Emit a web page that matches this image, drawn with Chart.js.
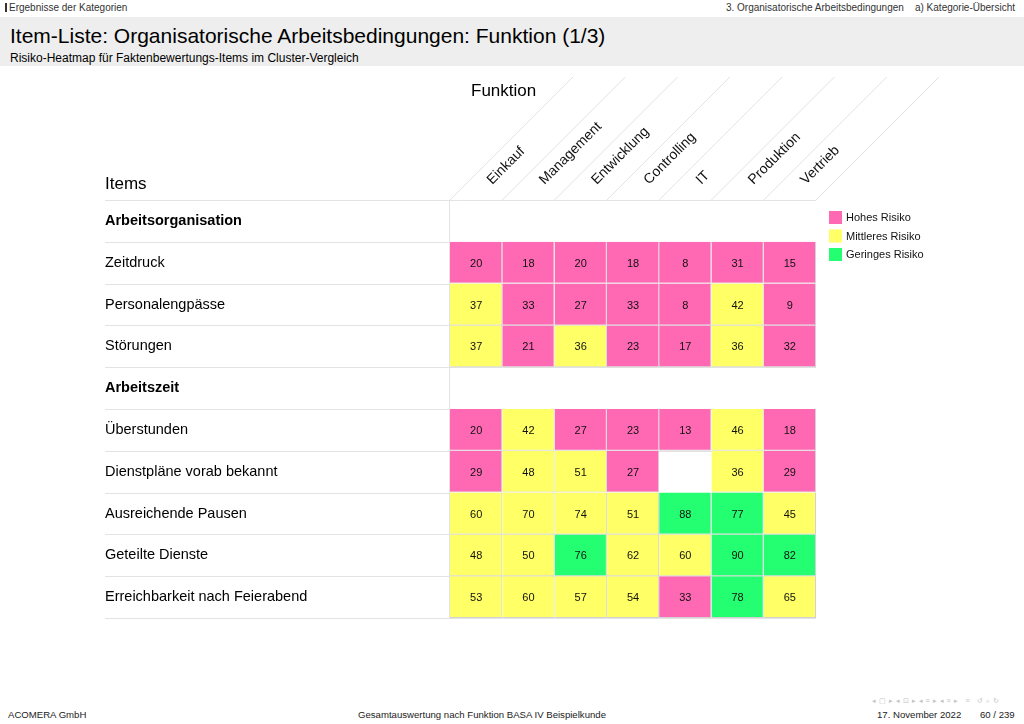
<!DOCTYPE html>
<html lang="de">
<head>
<meta charset="utf-8">
<title>Item-Liste: Organisatorische Arbeitsbedingungen: Funktion (1/3)</title>
<script src="https://cdn.jsdelivr.net/npm/chart.js@4/dist/chart.umd.min.js"></script>
<style>
  html, body { margin: 0; padding: 0; background: #fff; }
  body { width: 1024px; height: 724px; position: relative; overflow: hidden;
         font-family: "Liberation Sans", Arial, Helvetica, sans-serif; color: #000; }
  .abs { position: absolute; white-space: nowrap; }
  #topleft { left: 5px; top: 2px; font-size: 10px; color: #333; line-height: 12px; }
  #topleft .bar { display: inline-block; width: 2px; height: 9px; background: #333; margin-right: 2px; vertical-align: -1px; }
  #topright { right: 9px; top: 2px; font-size: 10px; color: #333; line-height: 12px; }
  #band { left: 0; top: 17px; width: 1024px; height: 49px; background: #eeeeee; }
  #title { left: 10px; top: 23px; font-size: 21px; line-height: 26px; color: #000; }
  #subtitle { left: 10px; top: 51px; font-size: 12px; line-height: 14px; color: #000; }
  .foot { top: 709px; font-size: 9.6px; line-height: 12px; color: #222; }
  #nav { top: 697px; left: 872px; font-size: 7px; color: #c4c4c4; letter-spacing: 0.5px; }
  canvas { position: absolute; left: 0; top: 0; }
</style>
</head>
<body>
<div id="topleft" class="abs"><span class="bar"></span>Ergebnisse der Kategorien</div>
<div id="topright" class="abs">3. Organisatorische Arbeitsbedingungen&nbsp;&nbsp;&nbsp;&nbsp;a) Kategorie-Übersicht</div>
<div id="band" class="abs"></div>
<div id="title" class="abs">Item-Liste: Organisatorische Arbeitsbedingungen: Funktion (1/3)</div>
<div id="subtitle" class="abs">Risiko-Heatmap für Faktenbewertungs-Items im Cluster-Vergleich</div>
<div id="nav" class="abs">◂ ▢ ▸ ◂ ⊡ ▸ ◂ ≡ ▸ ◂ ≡ ▸ &nbsp; ≡ &nbsp; ↺ ⌕ ↻</div>
<div class="abs foot" style="left:8px;">ACOMERA GmbH</div>
<div class="abs foot" style="left:358px;">Gesamtauswertung nach Funktion BASA IV Beispielkunde</div>
<div class="abs foot" style="left:877px;">17. November 2022</div>
<div class="abs foot" style="left:980px;">60 / 239</div>
<canvas id="c" width="1024" height="724"></canvas>
<script>
// ---------------- DATA ----------------
const funktionen = ['Einkauf', 'Management', 'Entwicklung', 'Controlling', 'IT', 'Produktion', 'Vertrieb'];
const items = ['Arbeitsorganisation', 'Zeitdruck', 'Personalengpässe', 'Störungen', 'Arbeitszeit',
               'Überstunden', 'Dienstpläne vorab bekannt', 'Ausreichende Pausen', 'Geteilte Dienste',
               'Erreichbarkeit nach Feierabend'];
const sectionRows = ['Arbeitsorganisation', 'Arbeitszeit'];

const zeitdruck        = [20, 18, 20, 18, 8, 31, 15];
const personalengpaesse = [37, 33, 27, 33, 8, 42, 9];
const stoerungen       = [37, 21, 36, 23, 17, 36, 32];
const ueberstunden     = [20, 42, 27, 23, 13, 46, 18];
const dienstplaene     = [29, 48, 51, 27, null, 36, 29];
const pausen           = [60, 70, 74, 51, 88, 77, 45];
const geteilteDienste  = [48, 50, 76, 62, 60, 90, 82];
const erreichbarkeit   = [53, 60, 57, 54, 33, 78, 65];

const rowValues = [null, zeitdruck, personalengpaesse, stoerungen, null,
                   ueberstunden, dienstplaene, pausen, geteilteDienste, erreichbarkeit];

const riskLabels = ['Hohes Risiko', 'Mittleres Risiko', 'Geringes Risiko'];
const highRiskMax = 34;   // values <= this: Hohes Risiko
const lowRiskMin = 76;    // values >= this: Geringes Risiko

// ---------------- STYLE ----------------
const FONT = '"Liberation Sans", Arial, Helvetica, sans-serif';
const riskColors = ['#ff69b4', '#ffff66', '#24ff72'];
function riskIndex(v) { return v <= highRiskMax ? 0 : (v >= lowRiskMin ? 2 : 1); }

const datasets = funktionen.map((f, c) => ({
  label: f,
  data: rowValues.map(r => (r && r[c] != null) ? [c, c + 1] : null),
  backgroundColor: rowValues.map(r => (r && r[c] != null) ? riskColors[riskIndex(r[c])] : 'rgba(0,0,0,0)'),
  borderColor: '#d2d2d2',
  borderWidth: { top: 0, left: 0, right: 1, bottom: 1 },
  borderSkipped: false,
  inflateAmount: 0,
  grouped: false,
  barPercentage: 1,
  categoryPercentage: 1
}));

const tablePlugin = {
  id: 'tablePlugin',
  beforeDatasetsDraw(chart) {
    const { ctx, chartArea: a, scales: { x, y } } = chart;
    const left = y.left;
    const x0 = x.getPixelForValue(0);
    const xN = x.getPixelForValue(funktionen.length);
    ctx.save();
    ctx.lineWidth = 1;
    ctx.strokeStyle = '#e3e3e3';
    for (let i = 0; i <= items.length; i++) {
      const yy = Math.round(y.getPixelForValue(i - 0.5)) + 0.5;
      ctx.beginPath(); ctx.moveTo(left, yy); ctx.lineTo(xN, yy); ctx.stroke();
    }
    const vx = Math.round(x0) - 0.5;
    ctx.beginPath(); ctx.moveTo(vx, a.top); ctx.lineTo(vx, a.bottom); ctx.stroke();
    ctx.restore();
  },
  afterDatasetsDraw(chart) {
    const { ctx, chartArea: a, scales: { x, y } } = chart;
    ctx.save();
    // values
    ctx.fillStyle = '#111';
    ctx.font = '11px ' + FONT;
    ctx.textAlign = 'center';
    ctx.textBaseline = 'middle';
    funktionen.forEach((f, c) => {
      const meta = chart.getDatasetMeta(c);
      meta.data.forEach((el, i) => {
        const r = rowValues[i];
        if (!r || r[c] == null) return;
        const p = el.getCenterPoint();
        ctx.fillText(String(r[c]), p.x, p.y + 1);
      });
    });

    // header: diagonal lines
    const diagH = 123;
    ctx.strokeStyle = '#d9d9d9';
    ctx.lineWidth = 0.8;
    for (let c = 0; c <= funktionen.length; c++) {
      const bx = x.getPixelForValue(c);
      ctx.beginPath(); ctx.moveTo(bx, a.top); ctx.lineTo(bx + diagH, a.top - diagH); ctx.stroke();
    }
    // column labels
    ctx.fillStyle = '#111';
    ctx.font = '14px ' + FONT;
    ctx.textAlign = 'left';
    ctx.textBaseline = 'alphabetic';
    funktionen.forEach((f, c) => {
      const cx = x.getPixelForValue(c + 0.5);
      ctx.save();
      ctx.translate(cx + 16, a.top - 15);
      ctx.rotate(-Math.PI / 4);
      ctx.fillText(f, 0, 0);
      ctx.restore();
    });
    // axis titles
    ctx.fillStyle = '#000';
    ctx.font = '17px ' + FONT;
    ctx.textBaseline = 'middle';
    ctx.fillText('Funktion', x.getPixelForValue(0) + 21, a.top - 109);
    ctx.fillText('Items', y.left, a.top - 16);

    // legend
    const lx = x.getPixelForValue(funktionen.length) + 13;
    ctx.font = '11px ' + FONT;
    riskLabels.forEach((lab, k) => {
      const ly = a.top + 11 + k * 18.5;
      ctx.fillStyle = riskColors[k];
      ctx.fillRect(lx, ly, 13, 13);
      ctx.fillStyle = '#111';
      ctx.fillText(lab, lx + 17, ly + 7);
    });
    ctx.restore();
  }
};

new Chart(document.getElementById('c'), {
  type: 'bar',
  data: { labels: items, datasets },
  plugins: [tablePlugin],
  options: {
    indexAxis: 'y',
    responsive: false,
    animation: false,
    devicePixelRatio: 1,
    layout: { padding: { left: 105, right: 208, top: 200, bottom: 106 } },
    plugins: { legend: { display: false }, tooltip: { enabled: false }, title: { display: false } },
    scales: {
      x: { type: 'linear', min: 0, max: funktionen.length, display: false },
      y: {
        type: 'category',
        grid: { display: false },
        border: { display: false },
        afterFit: (scale) => { scale.width = 345; },
        ticks: {
          autoSkip: false,
          crossAlign: 'far',
          padding: 0,
          color: '#000',
          font: (ctx) => ({
            family: FONT,
            size: 14.5,
            weight: sectionRows.includes(items[ctx.index]) ? 'bold' : 'normal'
          })
        }
      }
    }
  }
});
</script>
</body>
</html>
